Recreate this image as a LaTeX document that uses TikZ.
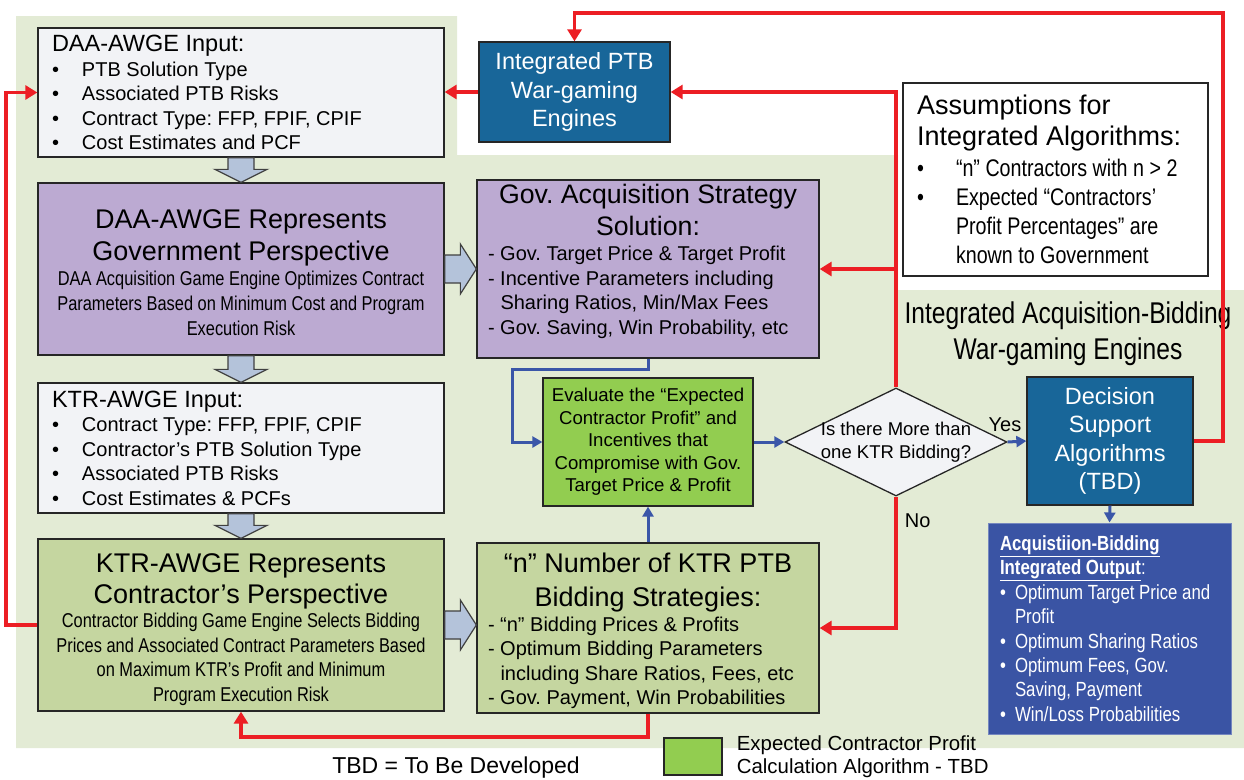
\documentclass[tikz,border=0pt]{standalone}
\usepackage{fontspec}
\setmainfont{Liberation Sans}
\newfontfamily\narrowfont[FakeStretch=0.82]{Liberation Sans}
\usepackage{tikz}
\usetikzlibrary{calc}
\usetikzlibrary{shapes.geometric}
\usetikzlibrary{positioning,arrows.meta}

\definecolor{bggreen}{RGB}{227,235,213}
\definecolor{paleblue}{RGB}{242,243,246}
\definecolor{lavender}{RGB}{188,170,210}
\definecolor{kolive}{RGB}{197,214,160}
\definecolor{kgreen}{RGB}{146,205,80}
\definecolor{steelblue}{RGB}{24,102,153}
\definecolor{royal}{RGB}{58,84,164}
\definecolor{blockfill}{RGB}{180,195,218}
\definecolor{flowred}{RGB}{236,30,36}
\definecolor{flowblue}{RGB}{58,86,168}

\newcommand{\fsz}[2]{\fontsize{#1}{#2}\selectfont
  \spaceskip=\fontdimen2\font\xspaceskip=\fontdimen2\font\relax}
\newcommand{\bitem}[2][30pt]{\makebox[#1][l]{\textbullet}#2}
\newcommand{\blkdown}[2]{%
  \filldraw[blockarr] ($(#1.south)+(-13,0)$) -- ($(#1.south)+(13,0)$)
    -- ($(#2.north)+(13,-13)$) -- ($(#2.north)+(26,-13)$) -- (#2.north)
    -- ($(#2.north)+(-26,-13)$) -- ($(#2.north)+(-13,-13)$) -- cycle;}
\newcommand{\blkright}[2]{%
  \filldraw[blockarr] ($(#1.east)+(0,-14)$) -- ($(#2.west |- #1.east)+(-16,-14)$)
    -- ($(#2.west |- #1.east)+(-16,-25)$) -- (#2.west |- #1.east)
    -- ($(#2.west |- #1.east)+(-16,25)$) -- ($(#2.west |- #1.east)+(-16,14)$)
    -- ($(#1.east)+(0,14)$) -- cycle;}

\begin{document}
\begin{tikzpicture}[
    x=1pt,y=-1pt,
    box/.style={draw=black!85,line width=1.3pt,inner ysep=0pt},
    inputbox/.style={box,fill=paleblue,inner xsep=14pt,text width=378pt,minimum height=129pt,
        align=left,font={\fsz{20}{24.5}}},
    bigbox/.style={box,inner xsep=5pt,text width=396pt,minimum height=172pt,align=center},
    midbox/.style={box,inner xsep=11pt,text width=320pt,minimum height=#1,align=left},
    engine/.style={box,fill=steelblue,text=white,align=center,inner xsep=5pt,font={\fsz{23.5}{28.5}}},
    decision/.style={diamond,draw=black!85,line width=1.3pt,fill=paleblue,
        minimum width=222pt,minimum height=108pt,inner sep=0pt},
    blockarr/.style={fill=blockfill,draw=black!75,line width=1.2pt},
    redline/.style={draw=flowred,line width=3.8pt,-{Triangle[length=12pt,width=14pt]}},
    blueline/.style={draw=flowblue,line width=3pt,-{Triangle[length=10pt,width=11pt]}},
    tag/.style={font={\fsz{20}{22}},inner sep=2pt}
]
  \useasboundingbox (0,0) rectangle (1244,779);
  \fill[bggreen] (16,16) -- (457,16) -- (457,155) -- (898,155) -- (898,290)
    -- (1244,290) -- (1244,748) -- (16,748) -- cycle;

  % left column
  \node[inputbox] (daain) at (241,92.5) {\fsz{23.5}{24.5}DAA-AWGE Input:\\
    \fsz{20}{24.5}\bitem{PTB Solution Type}\\ \bitem{Associated PTB Risks}\\
    \bitem{Contract Type: FFP, FPIF, CPIF}\\ \bitem{Cost Estimates and PCF}};
  \node[bigbox,fill=lavender,font={\narrowfont\fsz{20}{25}}] (daarep) at (241,269)
    {\rmfamily\fsz{27}{32}DAA-AWGE Represents\\ Government Perspective\\
    \narrowfont\fsz{20}{25}DAA Acquisition Game Engine Optimizes Contract\\
    Parameters Based on Minimum Cost and Program\\ Execution Risk\par\kern-7pt};
  \node[inputbox,minimum height=130pt] (ktrin) at (241,448) {\fsz{23.5}{24.5}KTR-AWGE Input:\\
    \fsz{20}{24.5}\bitem{Contract Type: FFP, FPIF, CPIF}\\ \bitem{Contractor’s PTB Solution Type}\\
    \bitem{Associated PTB Risks}\\ \bitem{Cost Estimates \& PCFs}};
  \node[bigbox,fill=kolive,font={\narrowfont\fsz{20}{24.5}}] (ktrrep) at (241,625)
    {\rmfamily\fsz{27}{31}KTR-AWGE Represents\\ Contractor’s Perspective\\
    \narrowfont\fsz{20}{24.5}Contractor Bidding Game Engine Selects Bidding\\
    Prices and Associated Contract Parameters Based\\
    on Maximum KTR’s Profit and Minimum\\ Program Execution Risk\par\kern-9pt};

  % middle column
  \node[engine,text width=181pt,minimum height=100pt] (integ) at (574.5,92)
    {\fsz{23.5}{28.5}Integrated PTB\\ War-gaming\\ Engines};
  \node[midbox=178pt,fill=lavender,font={\fsz{20}{24.7}}] (gov) at (648,269)
    {\centering\fsz{26.7}{32}Gov. Acquisition Strategy\\
    Solution:\par\raggedright\fsz{20}{24.7}- Gov. Target Price \& Target Profit\\
    - Incentive Parameters including\\ \hspace*{12.5pt}Sharing Ratios, Min/Max Fees\\
    - Gov. Saving, Win Probability, etc\par\kern15pt};
  \node[box,fill=kgreen,inner xsep=3pt,text width=204pt,minimum height=128pt,align=center,
    font={\fsz{18.6}{22.5}}] (evalbox) at (648,442) {\fsz{18.6}{22.5}Evaluate the “Expected\\
    Contractor Profit” and\\ Incentives that\\ Compromise with Gov.\\ Target Price \& Profit};
  \node[midbox=170pt,fill=kolive,font={\fsz{20}{24.5}}] (nbox) at (648,628)
    {\centering\fsz{27}{34}“n” Number of KTR PTB\\
    Bidding Strategies:\par\raggedright\fsz{20}{24.5}- “n” Bidding Prices \& Profits\\
    - Optimum Bidding Parameters\\ \hspace*{12.5pt}including Share Ratios, Fees, etc\\
    - Gov. Payment, Win Probabilities\par\kern-6pt};

  % right column
  \node[box,fill=white,inner xsep=14pt,text width=277pt,minimum height=193pt,align=left,
    font={\narrowfont\fsz{24}{29}}] (assum) at (1055.5,179.5)
    {\rmfamily\fsz{27}{31}Assumptions for\\ Integrated Algorithms:\\[2pt]
    \narrowfont\fsz{24}{29}\bitem[39pt]{“n” Contractors with n > 2}\\
    \bitem[39pt]{Expected “Contractors’}\\ \hspace*{39pt}Profit Percentages” are\\
    \hspace*{39pt}known to Government};
  \node[align=center,font={\narrowfont\fsz{30}{36}}] (intlabel) at (1068,334)
    {\fsz{30}{36}Integrated Acquisition-Bidding\\ War-gaming Engines};
  \node[decision,label={[name=ktrqtext,align=center,font={\fsz{18.5}{23}}]center:Is there More than\\ one KTR Bidding?}]
    (ktrq) at (896,442) {};
  \node[engine,text width=156pt,minimum height=128pt] (dec) at (1110,441)
    {\fsz{23.5}{28.5}Decision\\ Support\\ Algorithms\\ (TBD)};
  \node[fill=royal,draw=royal!70!white,line width=1pt,text=white,inner xsep=12pt,inner ysep=0pt,
    text width=219pt,minimum height=211pt,align=left,font={\narrowfont\fsz{20.5}{24.4}}] (outbox)
    at (1109.5,628.5) {\fsz{20.5}{24.4}\textbf{\underline{Acquistiion-Bidding}}\\
    \textbf{\underline{Integrated Output}}:\\
    \bitem[15pt]{Optimum Target Price and}\\ \hspace*{15pt}Profit\\
    \bitem[15pt]{Optimum Sharing Ratios}\\ \bitem[15pt]{Optimum Fees, Gov.}\\
    \hspace*{15pt}Saving, Payment\\ \bitem[15pt]{Win/Loss Probabilities}};

  % legend
  \node[box,fill=kgreen,minimum width=58pt,minimum height=37pt,inner sep=0pt] (legbox) at (693,756.5) {};
  \node[right=14pt of legbox,align=left,inner sep=0pt,font={\fsz{20.4}{23}}] (legtext)
    {\fsz{20.4}{23}Expected Contractor Profit\\ Calculation Algorithm - TBD};
  \node[font={\fsz{23}{24}},inner sep=0pt] (tbdnote) at (456,768) {TBD = To Be Developed};

  % block arrows
  \blkdown{daain}{daarep}
  \blkdown{daarep}{ktrin}
  \blkdown{ktrin}{ktrrep}
  \blkright{daarep}{gov}
  \blkright{ktrrep}{nbox}

  % feedback loops
  \coordinate (topbend) at (1223,13);
  \draw[redline] (dec.east) -| (topbend) -| (integ.north);
  \draw[redline] (ktrq.north) |- (integ.east);
  \draw[redline] (ktrq.north |- gov.east) -- (gov.east);
  \draw[redline] (integ.west) -- (integ.west -| daain.east);
  \draw[redline] (ktrrep.west) -- ++(-31,0) |- (daain.west);
  \draw[redline] (ktrq.south) |- node[tag,pos=0.09,right=5pt] (nolbl) {No} (nbox.east);
  \draw[redline] (nbox.south) -- ++(0,23) -| (ktrrep.south);

  % main flow
  \draw[blueline] (gov.south) -- ++(0,11) -| ($(evalbox.west)+(-30,0)$) -- (evalbox.west);
  \draw[blueline] (evalbox.east) -- (ktrq.west);
  \draw[blueline] (nbox.north) -- (evalbox.south);
  \draw[blueline] (ktrq.east) -- node[tag,above=6pt,xshift=-12pt] (yeslbl) {Yes} (dec.west);
  \draw[blueline] (dec.south) -- (outbox.north);
\end{tikzpicture}
\end{document}
